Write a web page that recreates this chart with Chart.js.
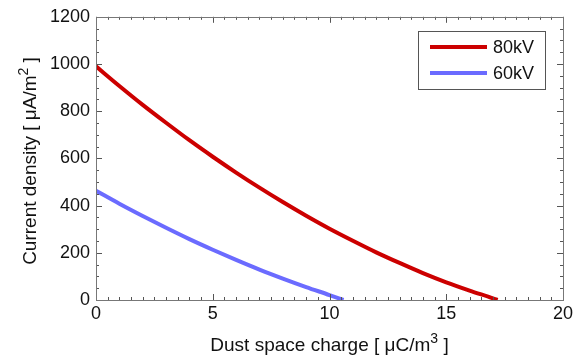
<!DOCTYPE html>
<html>
<head>
<meta charset="utf-8">
<script src="https://cdn.jsdelivr.net/npm/chart.js@4"></script>
<style>
  html, body { margin: 0; padding: 0; background: #fff; }
  #wrap { width: 579px; height: 356px; }
</style>
</head>
<body>
<div id="wrap"><canvas id="chart" width="579" height="356"></canvas></div>
<script>
// data
const seriesNames = ["80kV", "60kV"];
const x80 = [0, 1, 2, 3, 4, 5, 6, 7, 8, 9, 10, 11, 12, 13, 14, 15, 16, 17, 17.2];
const y80 = [990, 907, 827, 751, 677, 607, 540, 476, 415, 357, 302, 251, 202, 157, 114, 75, 40, 7, 0];
const x60 = [0, 1, 2, 3, 4, 5, 6, 7, 8, 9, 10, 10.6];
const y60 = [463, 408, 356, 306, 258, 213, 170, 129, 91, 55, 21, 0];
const xTicks = [0, 5, 10, 15, 20];
const yTicks = [0, 200, 400, 600, 800, 1000, 1200];

const FONT = "'Liberation Sans', Arial, sans-serif";
const colors = ["#cc0000", "#6b6bff"];

function toPoints(xs, ys) {
    return xs.map((x, i) => ({ x: x, y: ys[i] }));
}

// title text with a raised exponent: [before, sup, after]
function drawSupText(ctx, parts, x, y) {
    ctx.font = "19px " + FONT;
    ctx.fillText(parts[0], x, y);
    let w = ctx.measureText(parts[0]).width;
    ctx.font = "14px " + FONT;
    ctx.fillText(parts[1], x + w, y - 8);
    w += ctx.measureText(parts[1]).width;
    ctx.font = "19px " + FONT;
    ctx.fillText(parts[2], x + w, y);
    return w + ctx.measureText(parts[2]).width;
}
function supTextWidth(ctx, parts) {
    ctx.font = "19px " + FONT;
    let w = ctx.measureText(parts[0]).width + ctx.measureText(parts[2]).width;
    ctx.font = "14px " + FONT;
    return w + ctx.measureText(parts[1]).width;
}

const xTitle = ["Dust space charge [ \u03bcC/m", "3", " ]"];
const yTitle = ["Current density [ \u03bcA/m", "2", " ]"];

// frame, inward ticks (major + minor) on all four sides
const framePlugin = {
    id: "frame",
    afterDatasetsDraw(chart) {
        const { ctx, chartArea: a, scales } = chart;
        const xs = scales.x, ys = scales.y;
        ctx.save();
        ctx.strokeStyle = "#555";
        ctx.lineWidth = 1;
        ctx.beginPath();
        for (let v = 0; v <= 20.001; v += 0.5) {
            const px = Math.round(xs.getPixelForValue(v)) + 0.5;
            const len = (Math.abs(v % 5) < 1e-6) ? 6 : 3;
            ctx.moveTo(px, a.bottom); ctx.lineTo(px, a.bottom - len);
            ctx.moveTo(px, a.top); ctx.lineTo(px, a.top + len);
        }
        for (let v = 0; v <= 1200; v += 50) {
            const py = Math.round(ys.getPixelForValue(v)) + 0.5;
            const len = (v % 200 === 0) ? 6 : 3;
            ctx.moveTo(a.left, py); ctx.lineTo(a.left + len, py);
            ctx.moveTo(a.right, py); ctx.lineTo(a.right - len, py);
        }
        ctx.stroke();
        ctx.strokeStyle = "#777";
        ctx.strokeRect(Math.round(a.left) + 0.5, Math.round(a.top) + 0.5,
            Math.round(a.right - a.left), Math.round(a.bottom - a.top));
        ctx.restore();
    },
    afterDraw(chart) {
        const { ctx, chartArea: a } = chart;
        ctx.save();
        // boxed legend inside the plot, top right
        const bx = 418, by = 31, bw = 127, bh = 58;
        ctx.fillStyle = "#fff";
        ctx.fillRect(bx, by, bw, bh);
        ctx.strokeStyle = "#555";
        ctx.lineWidth = 1;
        ctx.strokeRect(bx + 0.5, by + 0.5, bw, bh);
        chart.data.datasets.forEach((ds, i) => {
            const ly = by + 16 + i * 26;
            ctx.strokeStyle = ds.borderColor;
            ctx.lineWidth = 4;
            ctx.beginPath();
            ctx.moveTo(430, ly); ctx.lineTo(487, ly);
            ctx.stroke();
            ctx.fillStyle = "#111";
            ctx.font = "18px " + FONT;
            ctx.textBaseline = "middle";
            ctx.fillText(ds.label, 493, ly + 1);
        });

        // axis titles
        ctx.fillStyle = "#111";
        ctx.textBaseline = "alphabetic";
        ctx.textAlign = "left";
        const xw = supTextWidth(ctx, xTitle);
        drawSupText(ctx, xTitle, (a.left + a.right) / 2 - xw / 2, 351);

        const yw = supTextWidth(ctx, yTitle);
        ctx.translate(36, 161);
        ctx.rotate(-Math.PI / 2);
        drawSupText(ctx, yTitle, -yw / 2, 0);
        ctx.restore();
    }
};

const ctx = document.getElementById("chart").getContext("2d");
new Chart(ctx, {
    type: "scatter",
    data: {
        datasets: [
            {
                label: seriesNames[0],
                data: toPoints(x80, y80),
                showLine: true,
                borderColor: colors[0],
                borderWidth: 4,
                pointRadius: 0,
                cubicInterpolationMode: "monotone",
                fill: false,
            },
            {
                label: seriesNames[1],
                data: toPoints(x60, y60),
                showLine: true,
                borderColor: colors[1],
                borderWidth: 4,
                pointRadius: 0,
                cubicInterpolationMode: "monotone",
                fill: false,
            },
        ],
    },
    options: {
        responsive: false,
        animation: false,
        layout: { padding: { top: 15, right: 16, left: 0, bottom: 0 } },
        plugins: {
            legend: { display: false },
            tooltip: { enabled: false },
        },
        scales: {
            x: {
                type: "linear",
                min: 0,
                max: 20,
                afterBuildTicks: (s) => { s.ticks = xTicks.map((v) => ({ value: v })); },
                afterFit: (s) => { s.height = 56; },
                grid: { display: false, drawTicks: false },
                border: { display: false },
                ticks: {
                    color: "#111",
                    font: { family: FONT, size: 18 },
                    padding: 3,
                    maxRotation: 0,
                    callback: (v) => String(v),
                },
            },
            y: {
                type: "linear",
                min: 0,
                max: 1200,
                afterBuildTicks: (s) => { s.ticks = yTicks.map((v) => ({ value: v })); },
                afterFit: (s) => { s.width = 96; },
                grid: { display: false, drawTicks: false },
                border: { display: false },
                ticks: {
                    color: "#111",
                    font: { family: FONT, size: 18 },
                    padding: 6,
                    callback: (v) => String(v),
                },
            },
        },
    },
    plugins: [framePlugin],
});
</script>
</body>
</html>
